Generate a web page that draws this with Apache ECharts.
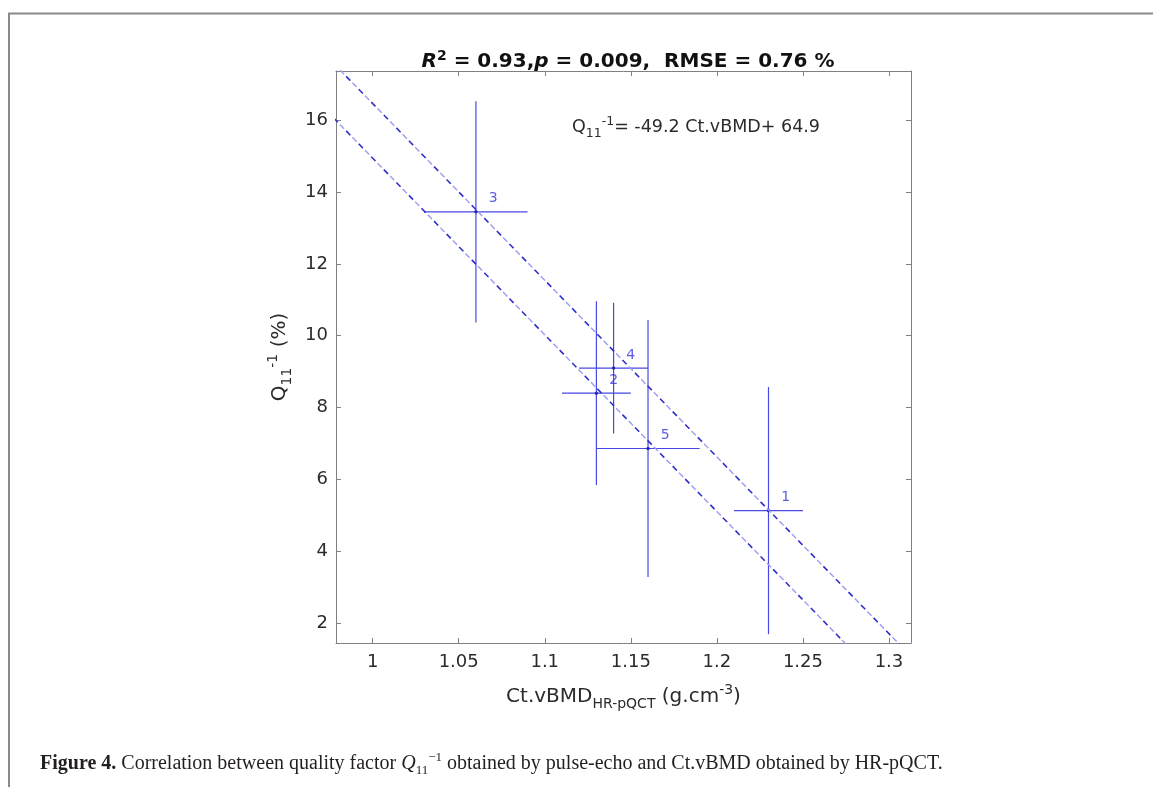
<!DOCTYPE html>
<html>
<head>
<meta charset="utf-8">
<script src="https://cdn.jsdelivr.net/npm/echarts@6/dist/echarts.min.js"></script>
<style>
html,body{margin:0;padding:0;background:#fff;}
#chart{width:1153px;height:787px;}
</style>
</head>
<body>
<div id="chart"></div>
<script>
// ---- data ----
const pointIds = ['1', '2', '3', '4', '5'];
const xVals = [1.23, 1.13, 1.06, 1.14, 1.16];      // Ct.vBMD (g.cm^-3)
const yVals = [5.13, 8.40, 13.45, 9.10, 6.86];     // Q11^-1 (%)
const xErr = [0.02, 0.02, 0.03, 0.02, 0.03];
const yErr = [3.44, 2.56, 3.08, 1.82, 3.58];
const fitUpper = [[0.97, 17.94], [1.32, 0.72]];    // dashed bound lines (endpoints)
const fitLower = [[0.97, 16.42], [1.32, -0.80]];
const xTicks = [1, 1.05, 1.1, 1.15, 1.2, 1.25, 1.3];
const yTicks = [2, 4, 6, 8, 10, 12, 14, 16];
const xRange = [0.9787, 1.3128];
const yRange = [1.444, 17.37];

const FONT = 'DejaVu Sans';
const SERIF = 'Liberation Serif';
const TXT = '#2b2b2b';
const CAP = '#231f20';
const AX = '#808080';
const BAR = '#4848e6';
const DARK = '#2e2ecc';
const LIGHT = '#9c9cf0';

const chart = echarts.init(document.getElementById('chart'), null, {renderer: 'canvas'});

const errData = xVals.map((x, i) => [x, yVals[i], xErr[i], yErr[i]]);
const ptData = xVals.map((x, i) => ({value: [x, yVals[i]], name: pointIds[i]}));

function rt(size, extra) {
  return Object.assign({fontFamily: FONT, fontSize: size, fontWeight: 'normal', color: TXT}, extra || {});
}
const richAxis = {
  n: rt(20),
  sub: rt(14, {padding: [14, 0, 0, 0]}),
  sup: rt(14, {padding: [0, 0, 14, 0]})
};

function xAxisCfg(pos, showLabel) {
  return {
    type: 'value', position: pos, min: xRange[0], max: xRange[1],
    axisLine: {show: true, onZero: false, lineStyle: {color: AX, width: 1}},
    axisTick: {show: true, inside: true, length: 5, customValues: xTicks, lineStyle: {color: AX}},
    axisLabel: {show: showLabel, customValues: xTicks, margin: 10, fontFamily: FONT, fontSize: 18, color: TXT},
    splitLine: {show: false},
    name: showLabel ? '{n|Ct.vBMD}{sub|HR-pQCT}{n| (g.cm}{sup|-3}{n|)}' : '',
    nameLocation: 'middle', nameGap: 40,
    nameTextStyle: {rich: richAxis}
  };
}
function yAxisCfg(pos, showLabel) {
  return {
    type: 'value', position: pos, min: yRange[0], max: yRange[1],
    axisLine: {show: true, onZero: false, lineStyle: {color: AX, width: 1}},
    axisTick: {show: true, inside: true, length: 5, customValues: yTicks, lineStyle: {color: AX}},
    axisLabel: {show: showLabel, customValues: yTicks, margin: 8, fontFamily: FONT, fontSize: 18, color: TXT},
    splitLine: {show: false},
    name: showLabel ? '{n|Q}{sub|11}{sup|-1}{n| (%)}' : '',
    nameLocation: 'middle', nameGap: 42, nameRotate: 90,
    nameTextStyle: {rich: richAxis}
  };
}

function dashed(data, color, width, offset) {
  return {
    type: 'line', data: data, symbol: 'none', clip: true, silent: true,
    lineStyle: {color: color, width: width, type: [6, 12], dashOffset: offset}
  };
}

const option = {
  backgroundColor: '#fff',
  animation: false,
  grid: {left: 336, top: 71, right: 242, bottom: 144, containLabel: false},
  xAxis: [xAxisCfg('bottom', true), xAxisCfg('top', false)],
  yAxis: [yAxisCfg('left', true), yAxisCfg('right', false)],
  title: [{
    text: '{ri|R}{rs|2}{b| = 0.93,}{bi|p}{b| = 0.009,  RMSE = 0.76 %}',
    left: 623, top: 44, textAlign: 'center',
    textStyle: {
      rich: {
        b: {fontFamily: FONT, fontWeight: 'bold', fontSize: 20, color: '#111'},
        ri: {fontFamily: FONT, fontWeight: 'bold', fontStyle: 'italic', fontSize: 20, color: '#111'},
        bi: {fontFamily: FONT, fontWeight: 'bold', fontStyle: 'italic', fontSize: 20, color: '#111'},
        rs: {fontFamily: FONT, fontWeight: 'bold', fontSize: 14, color: '#111', padding: [0, 0, 12, 0]}
      }
    }
  }, {
    text: '{n|Q}{sub|11}{sup|-1}{n|= -49.2 Ct.vBMD+ 64.9}',
    left: 567, top: 110,
    textStyle: {
      fontWeight: 'normal',
      rich: {
        n: rt(17.5),
        sub: rt(12.5, {padding: [12, 0, 0, 0]}),
        sup: rt(12.5, {padding: [0, 0, 12, 0]})
      }
    }
  }, {
    text: '{b|Figure 4.}{n| Correlation between quality factor }{i|Q}{s|11}{p|\u22121}{n| obtained by pulse-echo and Ct.vBMD obtained by HR-pQCT.}',
    left: 35, top: 746,
    textStyle: {
      fontWeight: 'normal',
      rich: {
        b: {fontFamily: SERIF, fontWeight: 'bold', fontSize: 20, color: CAP},
        n: {fontFamily: SERIF, fontWeight: 'normal', fontSize: 20, color: CAP},
        i: {fontFamily: SERIF, fontWeight: 'normal', fontStyle: 'italic', fontSize: 20, color: CAP},
        s: {fontFamily: SERIF, fontWeight: 'normal', fontSize: 13, color: CAP, padding: [13, 0, 0, 0]},
        p: {fontFamily: SERIF, fontWeight: 'normal', fontSize: 13, color: CAP, padding: [0, 0, 13, 0]}
      }
    }
  }],
  graphic: [
    {type: 'line', shape: {x1: 8, y1: 13.5, x2: 1153, y2: 13.5}, style: {stroke: '#8a8a8a', lineWidth: 2}},
    {type: 'line', shape: {x1: 9, y1: 13, x2: 9, y2: 787}, style: {stroke: '#8a8a8a', lineWidth: 2}}
  ],
  series: [
    dashed(fitUpper, LIGHT, 1.4, 9),
    dashed(fitUpper, DARK, 1.6, 0),
    dashed(fitLower, LIGHT, 1.4, 9),
    dashed(fitLower, DARK, 1.6, 0),
    {
      type: 'custom', data: errData, silent: true,
      renderItem: function (params, api) {
        const x = api.value(0), y = api.value(1), ex = api.value(2), ey = api.value(3);
        const l = api.coord([x - ex, y]), r = api.coord([x + ex, y]);
        const t = api.coord([x, y + ey]), b = api.coord([x, y - ey]);
        const st = {stroke: BAR, lineWidth: 1.2};
        return {
          type: 'group',
          children: [
            {type: 'line', shape: {x1: l[0], y1: l[1], x2: r[0], y2: r[1]}, style: st},
            {type: 'line', shape: {x1: t[0], y1: t[1], x2: b[0], y2: b[1]}, style: st}
          ]
        };
      }
    },
    {
      type: 'scatter', data: ptData, symbol: 'circle', symbolSize: 3.5, silent: true,
      itemStyle: {color: '#1c1c9c'},
      label: {
        show: true, formatter: '{b}', position: 'right', offset: [6, -13],
        fontFamily: FONT, fontSize: 14, color: '#3333d8'
      }
    }
  ]
};
chart.setOption(option);
</script>
</body>
</html>
